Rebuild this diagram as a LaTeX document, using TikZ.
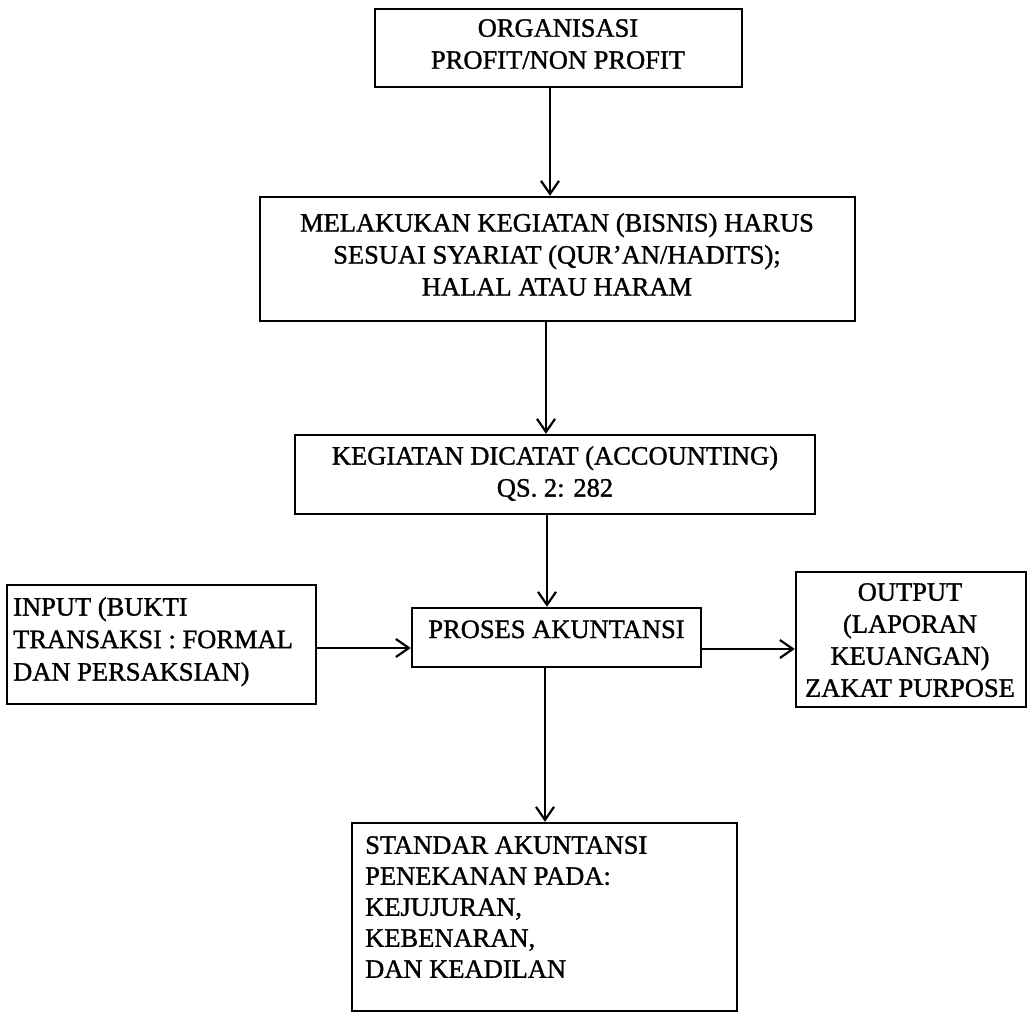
\documentclass[tikz,border=0pt]{standalone}
\usepackage{fontspec}
\setmainfont{Liberation Serif}[FakeBold=1.2]
\usetikzlibrary{arrows.meta}
\begin{document}
\begin{tikzpicture}[x=1pt,y=-1pt,
  box/.style={draw, line width=2.4pt, inner sep=0pt, rectangle},
  txt/.style={inner sep=0pt, font=\fontsize{26.5}{32}\selectfont},
  arr/.style={line width=2pt, -{Straight Barb[length=13pt,width=18pt,line width=2.2pt]}}]
\useasboundingbox (0,0) rectangle (1028,1014);
% boxes
\node[box, minimum width=367pt, minimum height=78pt]  (b1) at (558.5,48) {};
\node[box, minimum width=595pt, minimum height=124pt] (b2) at (557.5,259) {};
\node[box, minimum width=520pt, minimum height=79pt]  (b3) at (555,474.5) {};
\node[box, minimum width=309pt, minimum height=119pt] (in) at (161.5,644.5) {};
\node[box, minimum width=289pt, minimum height=59pt]  (pr) at (556.5,637.5) {};
\node[box, minimum width=230pt, minimum height=135pt] (out) at (911,639.5) {};
\node[box, minimum width=385pt, minimum height=188pt] (st) at (544.5,917) {};
% texts
\node[txt, align=center, anchor=north] (t1) at (558,19) {ORGANISASI\\PROFIT/NON PROFIT};
\node[txt, align=center, anchor=north] (t2) at (557,213) {MELAKUKAN KEGIATAN (BISNIS) HARUS\\SESUAI SYARIAT (QUR’AN/HADITS);\\HALAL ATAU HARAM};
\node[txt, align=center, anchor=north] (t3) at (555,446) {KEGIATAN DICATAT (ACCOUNTING)\\QS. 2: 282};
\node[txt, align=left, anchor=north west, font=\fontsize{26.5}{32.5}\selectfont] (t4) at (13,597) {INPUT (BUKTI\\TRANSAKSI : FORMAL\\DAN PERSAKSIAN)};
\node[txt, anchor=base] (t5) at (556.5,638) {PROSES AKUNTANSI};
\node[txt, align=center, anchor=north] (t6) at (910,583) {OUTPUT\\(LAPORAN\\KEUANGAN)\\ZAKAT PURPOSE};
\node[txt, align=left, anchor=north west, font=\fontsize{26.5}{31}\selectfont] (t7) at (365,836) {STANDAR AKUNTANSI\\PENEKANAN PADA:\\KEJUJURAN,\\KEBENARAN,\\DAN KEADILAN};
% connector guides
\coordinate (x1) at (550,0);
\coordinate (x2) at (546,0);
\coordinate (x3) at (547,0);
\coordinate (x4) at (545,0);
\coordinate (y1) at (0,648);
\coordinate (y2) at (0,649);
% connectors
\draw[arr] (b1.south -| x1) -- (b2.north -| x1);
\draw[arr] (b2.south -| x2) -- (b3.north -| x2);
\draw[arr] (b3.south -| x3) -- (pr.north -| x3);
\draw[arr] (pr.south -| x4) -- (st.north -| x4);
\draw[arr] (in.east |- y1) -- (pr.west |- y1);
\draw[arr] (pr.east |- y2) -- (out.west |- y2);
\end{tikzpicture}
\end{document}
